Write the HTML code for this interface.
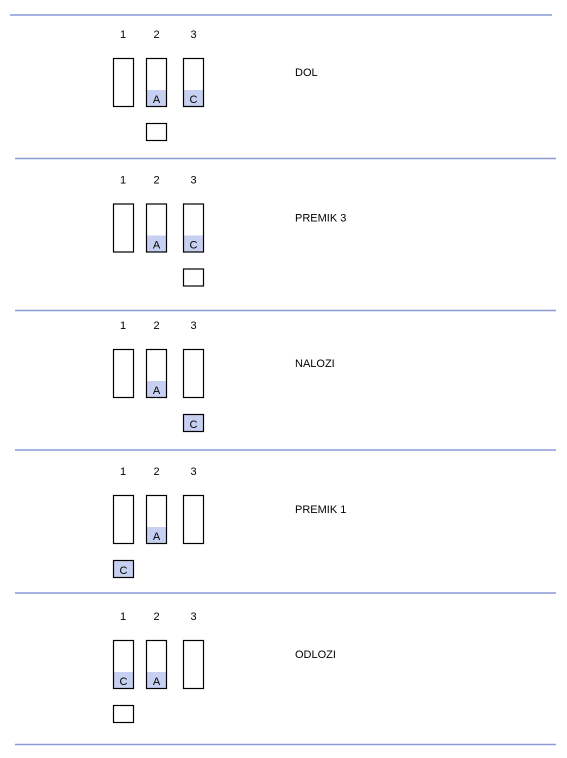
<!DOCTYPE html>
<html><head><meta charset="utf-8"><style>
html,body{margin:0;padding:0;background:#fff;width:567px;height:758px;overflow:hidden}
svg text{font-family:"Liberation Sans",sans-serif;font-size:11px;fill:#000}
</style></head><body>
<svg width="567" height="758" xmlns="http://www.w3.org/2000/svg">
<g stroke="#8a9bd6" stroke-width="1.5">
<line x1="10" y1="15" x2="552" y2="15"/>
<line x1="15" y1="158.5" x2="556" y2="158.5"/>
<line x1="15" y1="310.5" x2="556" y2="310.5"/>
<line x1="15" y1="450" x2="556" y2="450"/>
<line x1="15" y1="593" x2="556" y2="593"/>
<line x1="15" y1="744.5" x2="556" y2="744.5"/>
</g>
<defs>
<g id="nums">
<text x="123" y="38" text-anchor="middle">1</text>
<text x="156.5" y="38" text-anchor="middle">2</text>
<text x="193.5" y="38" text-anchor="middle">3</text>
</g>
</defs>
<!-- Section 1 -->
<g transform="translate(0,0)">
<use href="#nums"/>
<rect x="146.5" y="90" width="20" height="16.5" fill="#c7d0f0"/>
<rect x="183.5" y="90" width="20" height="16.5" fill="#c7d0f0"/>
<g fill="none" stroke="#000" stroke-width="1.2">
<rect x="113.5" y="58.5" width="20" height="48"/>
<rect x="146.5" y="58.5" width="20" height="48"/>
<rect x="183.5" y="58.5" width="20" height="48"/>
<rect x="146.5" y="123.5" width="20" height="17"/>
</g>
<text x="156.5" y="103" text-anchor="middle">A</text>
<text x="193.5" y="103" text-anchor="middle">C</text>
<text x="295" y="76">DOL</text>
</g>
<!-- Section 2 -->
<g transform="translate(0,145.5)">
<use href="#nums"/>
<rect x="146.5" y="90" width="20" height="16.5" fill="#c7d0f0"/>
<rect x="183.5" y="90" width="20" height="16.5" fill="#c7d0f0"/>
<g fill="none" stroke="#000" stroke-width="1.2">
<rect x="113.5" y="58.5" width="20" height="48"/>
<rect x="146.5" y="58.5" width="20" height="48"/>
<rect x="183.5" y="58.5" width="20" height="48"/>
<rect x="183.5" y="123.5" width="20" height="17"/>
</g>
<text x="156.5" y="103" text-anchor="middle">A</text>
<text x="193.5" y="103" text-anchor="middle">C</text>
<text x="295" y="76">PREMIK 3</text>
</g>
<!-- Section 3 -->
<g transform="translate(0,291)">
<use href="#nums"/>
<rect x="146.5" y="90" width="20" height="16.5" fill="#c7d0f0"/>
<rect x="183.5" y="123.5" width="20" height="17" fill="#c7d0f0"/>
<g fill="none" stroke="#000" stroke-width="1.2">
<rect x="113.5" y="58.5" width="20" height="48"/>
<rect x="146.5" y="58.5" width="20" height="48"/>
<rect x="183.5" y="58.5" width="20" height="48"/>
<rect x="183.5" y="123.5" width="20" height="17"/>
</g>
<text x="156.5" y="103" text-anchor="middle">A</text>
<text x="193.5" y="137" text-anchor="middle">C</text>
<text x="295" y="76">NALOZI</text>
</g>
<!-- Section 4 -->
<g transform="translate(0,437)">
<use href="#nums"/>
<rect x="146.5" y="90" width="20" height="16.5" fill="#c7d0f0"/>
<rect x="113.5" y="123.5" width="20" height="17" fill="#c7d0f0"/>
<g fill="none" stroke="#000" stroke-width="1.2">
<rect x="113.5" y="58.5" width="20" height="48"/>
<rect x="146.5" y="58.5" width="20" height="48"/>
<rect x="183.5" y="58.5" width="20" height="48"/>
<rect x="113.5" y="123.5" width="20" height="17"/>
</g>
<text x="156.5" y="103" text-anchor="middle">A</text>
<text x="123.5" y="137" text-anchor="middle">C</text>
<text x="295" y="76">PREMIK 1</text>
</g>
<!-- Section 5 -->
<g transform="translate(0,582)">
<use href="#nums"/>
<rect x="113.5" y="90" width="20" height="16.5" fill="#c7d0f0"/>
<rect x="146.5" y="90" width="20" height="16.5" fill="#c7d0f0"/>
<g fill="none" stroke="#000" stroke-width="1.2">
<rect x="113.5" y="58.5" width="20" height="48"/>
<rect x="146.5" y="58.5" width="20" height="48"/>
<rect x="183.5" y="58.5" width="20" height="48"/>
<rect x="113.5" y="123.5" width="20" height="17"/>
</g>
<text x="123.5" y="103" text-anchor="middle">C</text>
<text x="156.5" y="103" text-anchor="middle">A</text>
<text x="295" y="76">ODLOZI</text>
</g>
</svg>
</body></html>
